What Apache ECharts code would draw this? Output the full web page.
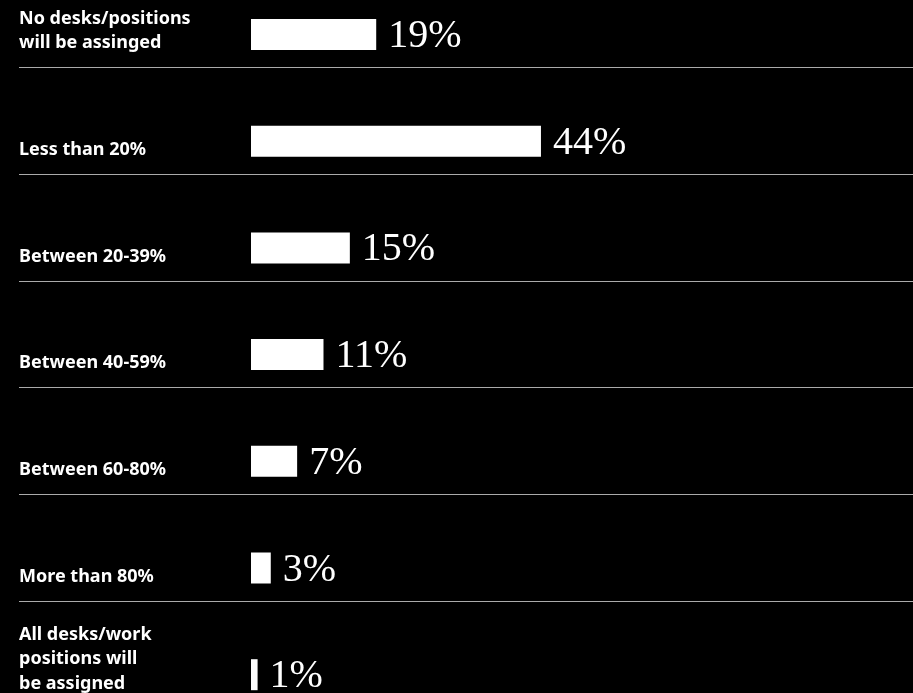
<!DOCTYPE html>
<html>
<head>
<meta charset="utf-8">
<script src="https://cdn.jsdelivr.net/npm/echarts@6/dist/echarts.min.js"></script>
<style>
html,body{margin:0;padding:0;background:#000;}
#c{width:913px;height:693px;}
</style>
</head>
<body>
<div id="c"></div>
<script>
const categories = [
  'No desks/positions\nwill be assinged',
  'Less than 20%',
  'Between 20-39%',
  'Between 40-59%',
  'Between 60-80%',
  'More than 80%',
  'All desks/work\npositions will\nbe assigned'
];
const values = [19, 44, 15, 11, 7, 3, 1];

const chart = echarts.init(document.getElementById('c'), null, {renderer: 'canvas'});
const option = {
  backgroundColor: '#000',
  animation: false,
  grid: [
    {left: 251, top: -18.85, width: 659, height: 746.9, containLabel: false, outerBoundsMode: 'none'},
    {left: 19, right: 0, top: 67.5, height: 640.2, containLabel: false, outerBoundsMode: 'none'}
  ],
  xAxis: [
    {type: 'value', gridIndex: 0, min: 0, max: 100, show: false},
    {type: 'value', gridIndex: 1, min: 0, max: 1, show: false}
  ],
  yAxis: [
    {type: 'category', gridIndex: 0, data: categories, inverse: true, show: false},
    {
      type: 'category', gridIndex: 1, data: categories, inverse: true, boundaryGap: false,
      axisLine: {show: false}, axisTick: {show: false},
      splitLine: {show: true, interval: 0, lineStyle: {color: '#aaaaaa', width: 1}},
      axisLabel: {
        interval: 0, margin: 0, align: 'left', verticalAlign: 'bottom',
        padding: [0, 0, 12, 0],
        color: '#fff', fontFamily: 'Noto Sans', fontWeight: 'bold', fontSize: 18, lineHeight: 24.5
      }
    }
  ],
  series: [{
    type: 'bar',
    xAxisIndex: 0, yAxisIndex: 0,
    data: values,
    barWidth: 31,
    itemStyle: {color: '#fff'},
    label: {
      show: true, position: 'right', distance: 12, offset: [0, 2],
      formatter: '{c}%', color: '#fff',
      fontFamily: 'Liberation Serif', fontSize: 40
    }
  }]
};
chart.setOption(option);
</script>
</body>
</html>
